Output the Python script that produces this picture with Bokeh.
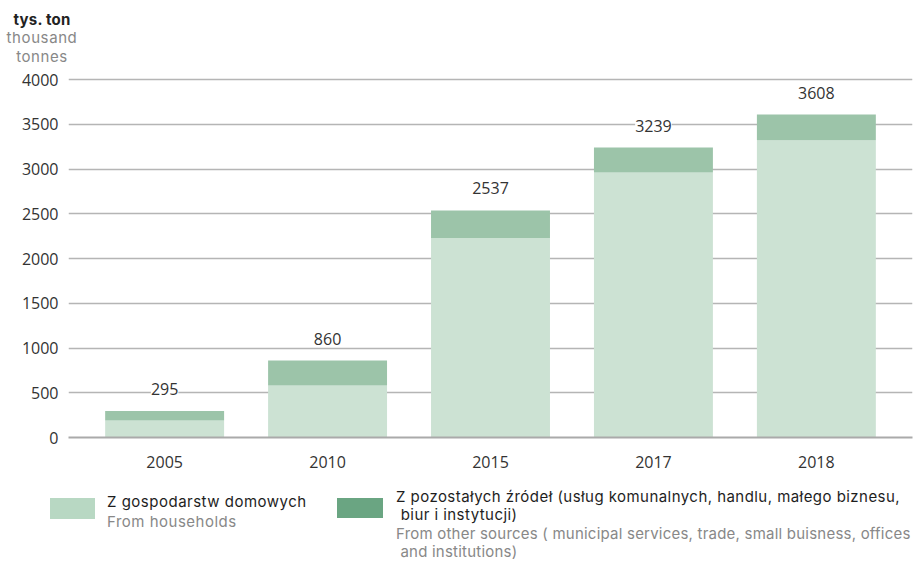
from bokeh.plotting import figure
from bokeh.models import ColumnDataSource, FactorRange, LabelSet, Div
from bokeh.layouts import column
from bokeh.core.properties import value
from bokeh.embed import file_html
from bokeh.resources import INLINE

years = ["2005", "2010", "2015", "2017", "2018"]
households = [190, 580, 2230, 2960, 3320]
other = [105, 280, 307, 279, 288]
totals = [295, 860, 2537, 3239, 3608]
y_ticks = [0, 500, 1000, 1500, 2000, 2500, 3000, 3500, 4000]

unit_lines = ["tys. ton", "thousand", "tonnes"]
legend_pl = [["Z gospodarstw domowych"],
             ["Z pozostałych źródeł (usług komunalnych, handlu, małego biznesu,", " biur i instytucji)"]]
legend_en = [["From households"],
             ["From other sources ( municipal services, trade, small buisness, offices", " and institutions)"]]

LIGHT = "#cce2d3"
DARK = "#9cc4a9"
SW = ["#b8d8c3", "#6aa582"]
FONT = "Open Sans"
LFONT = "Inter"

W = 914
TOTAL_H = 561
HEAD_H = 65
FL, FR = 68, 912
FRAME_TOP, FRAME_BOT, Y4000 = 66, 437, 79
TOP_B = FRAME_TOP - HEAD_H
FRAME_H = FRAME_BOT - FRAME_TOP
BOT_B = 45
MAIN_H = TOP_B + FRAME_H + BOT_B
LEG_H = TOTAL_H - HEAD_H - MAIN_H
Y_END = y_ticks[-1] * FRAME_H / (FRAME_BOT - Y4000)


def span(text, left, center, size, color, weight="normal", align="left", ls=0.4):
    lh = size
    top = center - lh / 2
    style = (f"position:absolute;top:{top}px;font-family:'{LFONT}';font-size:{size}px;"
             f"line-height:{lh}px;color:{color};font-weight:{weight};white-space:pre;"
             f"letter-spacing:{ls}px;")
    if align == "center":
        style += f"left:{left - 50}px;width:100px;text-align:center;"
    else:
        style += f"left:{left}px;"
    return f'<span style="{style}">{text}</span>'


def box(l, r, t, b, color):
    return (f'<span style="position:absolute;left:{l}px;top:{t}px;width:{r - l}px;'
            f'height:{b - t}px;background:{color};"></span>')


def wrap(inner, h):
    return f'<div style="position:relative;width:{W}px;height:{h}px;">{inner}</div>'


# header with units
head_html = (span(unit_lines[0], 42, 19, 15, "#222222", weight="bold", align="center", ls=0.2) +
             span(unit_lines[1], 42, 37.5, 15, "#888888", align="center", ls=0.6) +
             span(unit_lines[2], 42, 56, 15, "#888888", align="center", ls=0.6))
head = Div(text=wrap(head_html, HEAD_H), width=W, height=HEAD_H, margin=0)

# main chart
p = figure(x_range=FactorRange(*years, range_padding=0.036), y_range=(0, Y_END),
           width=W, height=MAIN_H, output_backend="svg", toolbar_location=None,
           min_border_left=FL, min_border_right=W - FR, min_border_top=TOP_B,
           min_border_bottom=BOT_B, margin=0)
p.outline_line_color = None

src = ColumnDataSource(dict(years=years, households=households, other=other, totals=totals))
p.vbar_stack(["households", "other"], x="years", width=0.73, color=[LIGHT, DARK],
             line_color=None, source=src)

labels = LabelSet(x="years", y="totals", text="totals", source=src, y_offset=22,
                  text_align="center", text_baseline="middle", text_font=value(FONT),
                  text_font_size=value("16px"), text_color="#333333",
                  background_fill_color="white", background_fill_alpha=1.0)
p.add_layout(labels)

p.yaxis.ticker = y_ticks
p.yaxis.axis_line_color = None
p.yaxis.major_tick_line_color = None
p.yaxis.minor_tick_line_color = None
p.yaxis.major_label_standoff = 4
p.yaxis.major_label_text_font = FONT
p.yaxis.major_label_text_font_size = "16px"
p.yaxis.major_label_text_color = "#333333"

p.xaxis.axis_line_color = "#aaaaaa"
p.xaxis.axis_line_width = 2
p.xaxis.major_tick_line_color = None
p.xaxis.minor_tick_line_color = None
p.xaxis.major_label_standoff = 12
p.xaxis.major_label_text_font = FONT
p.xaxis.major_label_text_font_size = "16px"
p.xaxis.major_label_text_color = "#333333"

p.xgrid.grid_line_color = None
p.ygrid.grid_line_color = "#b5b5b5"
p.ygrid.grid_line_width = 1.5

# legend (page y positions minus offset)
off = HEAD_H + MAIN_H
leg_html = (box(50, 95, 498 - off, 519 - off, SW[0]) +
            box(337, 383, 498 - off, 518 - off, SW[1]) +
            span(legend_pl[0][0], 107, 501 - off, 15, "#1e1e1e", ls=0.5) +
            span(legend_en[0][0], 107, 521 - off, 15, "#888888", ls=0.5) +
            span(legend_pl[1][0], 396, 496 - off, 15, "#1e1e1e", ls=0.45) +
            span(legend_pl[1][1], 396, 514.5 - off, 15, "#1e1e1e", ls=0.45) +
            span(legend_en[1][0], 396, 533 - off, 15, "#888888", ls=0.22) +
            span(legend_en[1][1], 396, 551.5 - off, 15, "#888888", ls=0.22))
leg = Div(text=wrap(leg_html, LEG_H), width=W, height=LEG_H, margin=0)

layout = column(head, p, leg, spacing=0)
open("out.html", "w").write(file_html(layout, INLINE))
